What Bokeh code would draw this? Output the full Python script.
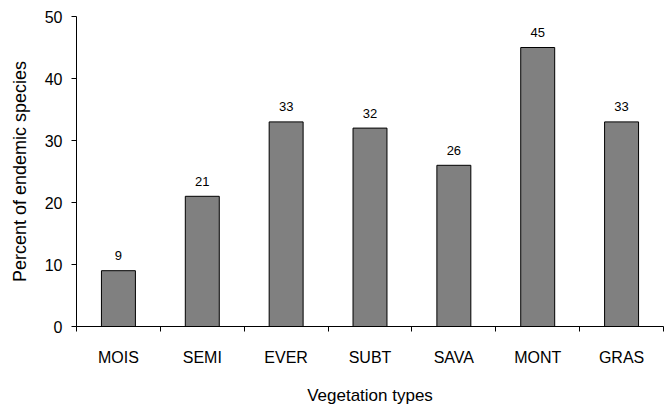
from bokeh.plotting import figure
from bokeh.models import FixedTicker, Range1d, ColumnDataSource
from bokeh.core.properties import value
from bokeh.embed import file_html
from bokeh.resources import INLINE

categories = ["MOIS", "SEMI", "EVER", "SUBT", "SAVA", "MONT", "GRAS"]
percent = [9, 21, 33, 32, 26, 45, 33]
y_ticks = [0, 10, 20, 30, 40, 50]

FONT = "Liberation Sans"

xpos = [i + 0.5 for i in range(len(categories))]
source = ColumnDataSource(dict(x=xpos, top=percent, label=[str(v) for v in percent], cat=categories))

p = figure(width=667, height=410, output_backend="svg", toolbar_location=None,
           x_range=Range1d(0, len(categories)), y_range=Range1d(0, 50),
           min_border_left=76, min_border_right=4, min_border_top=16, min_border_bottom=84)
p.outline_line_color = None
p.xgrid.grid_line_color = None
p.ygrid.grid_line_color = None

p.vbar(x="x", top="top", width=0.405, bottom=0, source=source,
       fill_color="#808080", line_color="black", line_width=1)
p.text(x="x", y="top", text="label", source=source, y_offset=-15,
       text_align="center", text_baseline="alphabetic",
       text_font=value(FONT), text_font_size="13px", text_color="black")

# x axis: labels at centers, ticks at category boundaries
xa = p.xaxis[0]
xa.ticker = FixedTicker(ticks=xpos, minor_ticks=list(range(len(categories) + 1)))
xa.major_label_overrides = {x: c for x, c in zip(xpos, categories)}
xa.major_tick_out = 0
xa.major_tick_in = 0
xa.minor_tick_out = 5
xa.minor_tick_in = 0
xa.minor_tick_line_color = "black"
xa.axis_line_color = "black"
xa.major_label_text_font = FONT
xa.major_label_text_font_size = "16px"
xa.major_label_text_color = "black"
xa.major_label_standoff = 17
xa.axis_label = "Vegetation types"
xa.axis_label_text_font = FONT
xa.axis_label_text_font_size = "17px"
xa.axis_label_text_font_style = "normal"
xa.axis_label_text_color = "black"
xa.axis_label_standoff = 17

ya = p.yaxis[0]
ya.ticker = FixedTicker(ticks=y_ticks, minor_ticks=[])
ya.major_tick_out = 5
ya.major_tick_in = 0
ya.minor_tick_line_color = None
ya.axis_line_color = "black"
ya.major_tick_line_color = "black"
ya.major_label_text_font = FONT
ya.major_label_text_font_size = "16px"
ya.major_label_text_color = "black"
ya.major_label_standoff = 9
ya.axis_label = "Percent of endemic species"
ya.axis_label_text_font = FONT
ya.axis_label_text_font_size = "18px"
ya.axis_label_text_font_style = "normal"
ya.axis_label_text_color = "black"
ya.axis_label_standoff = 12

open("out.html", "w").write(file_html(p, INLINE))
